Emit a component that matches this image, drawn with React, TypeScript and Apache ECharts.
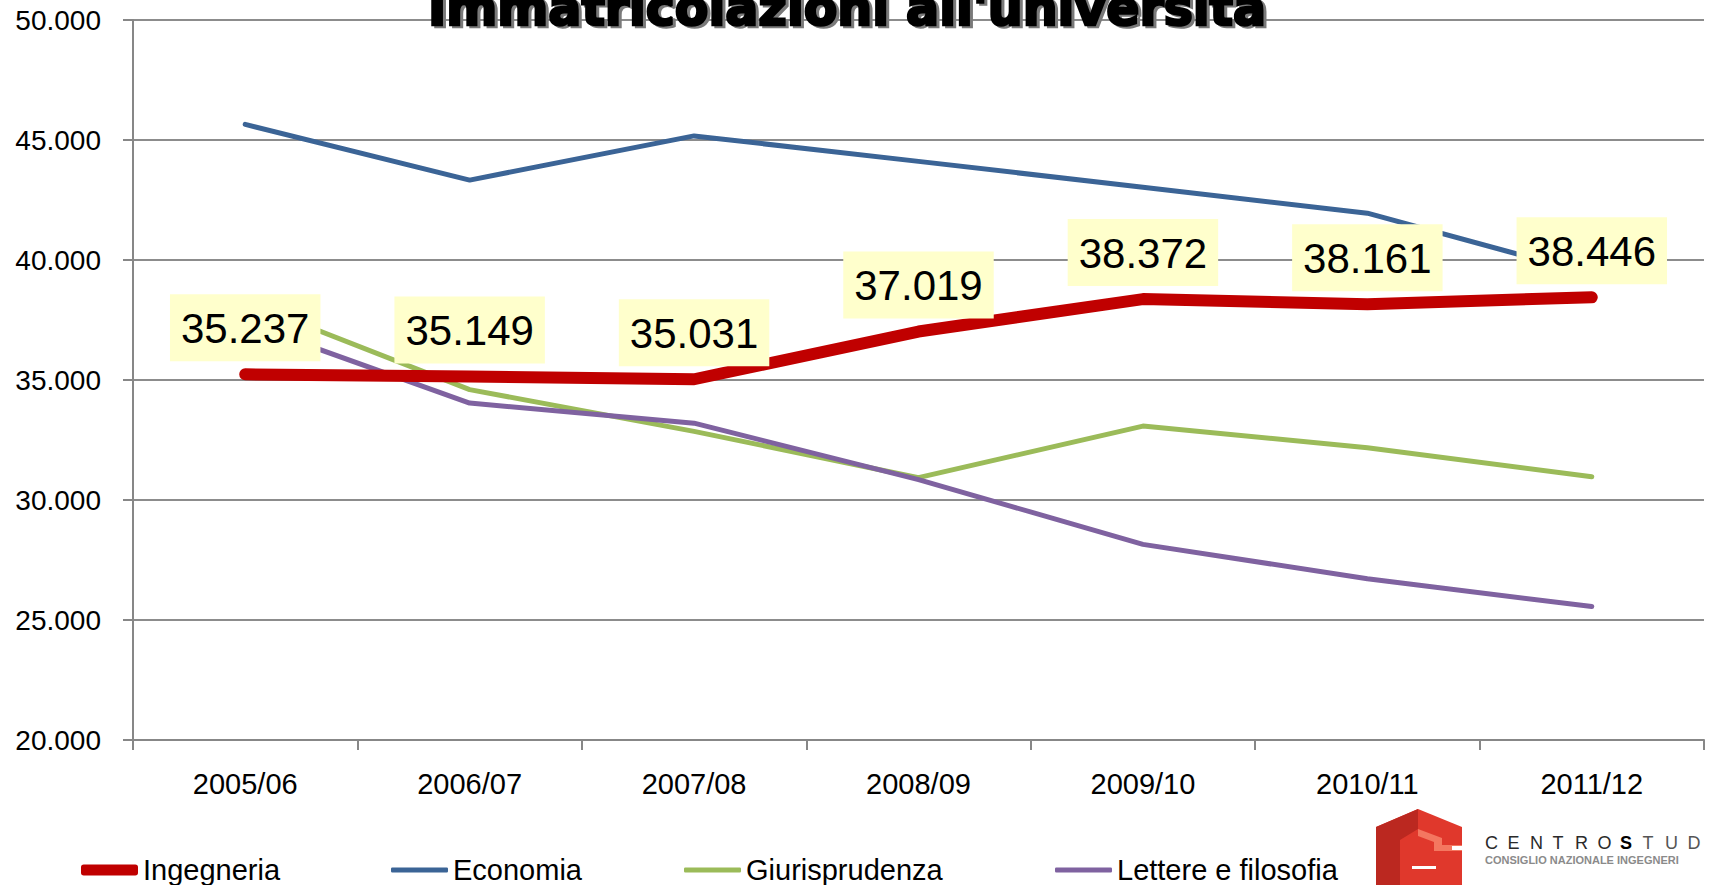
import React, { useEffect, useRef } from "react";
import * as echarts from "echarts";

const categories = ["2005/06", "2006/07", "2007/08", "2008/09", "2009/10", "2010/11", "2011/12"];
const ingegneria = [35237, 35149, 35031, 37019, 38372, 38161, 38446];
const economia = [45650, 43330, 45170, 44110, 43030, 41950, 39400];
const giurisprudenza = [38250, 34600, 32860, 30930, 33080, 32180, 30970];
const lettere = [37380, 34040, 33200, 30850, 28150, 26720, 25560];
const seriesNames = ["Ingegneria", "Economia", "Giurisprudenza", "Lettere e filosofia"];
const titleText = "Immatricolazioni all'università";
const logoLetters = ["C", "E", "N", "T", "R", "O", "S", "T", "U", "D", "I"];

const fmt = (v: number) => {
  const k = Math.floor(v / 1000);
  const r = String(Math.round(v % 1000)).padStart(3, "0");
  return `${k}.${r}`;
};

const FONT = "'Liberation Sans', Arial, sans-serif";

export default function App() {
  const ref = useRef<HTMLDivElement>(null);
  useEffect(() => {
    if (!ref.current) return;
    const chart = echarts.init(ref.current, undefined, { renderer: "svg" });
    const legendLefts = [81, 391, 684, 1055];
    const legendHeights = [11, 5, 5, 5];
    const colors = ["#C00000", "#3B6496", "#9BBB59", "#7F62A0"];
    const seriesData = [ingegneria, economia, giurisprudenza, lettere];
    const series: any[] = seriesNames.map((name, i) => {
      const s: any = {
        name,
        type: "line",
        data: seriesData[i],
        symbol: "none",
        z: 2 + i * 0.1,
        itemStyle: { color: colors[i] },
        lineStyle: { width: 5, color: colors[i], cap: "round", join: "round" },
      };
      if (i === 0) {
        s.symbol = "circle";
        s.symbolSize = 2;
        s.showSymbol = true;
        s.z = 5;
        s.lineStyle = { width: 12, color: colors[0], cap: "round", join: "round" };
        s.label = {
          show: true,
          position: "top",
          distance: 12,
          formatter: (p: any) => fmt(p.value),
          color: "#000",
          fontSize: 42,
          fontFamily: FONT,
          lineHeight: 50,
          backgroundColor: "#FFFFCC",
          padding: [9, 11, 8, 11],
        };
      }
      return s;
    });
    const letterEls = logoLetters.map((ch, i) => ({
      type: "text",
      x: 1485 + i * 22.5,
      y: 843,
      style: {
        text: ch,
        fontSize: 18,
        fontWeight: ch === "S" && i === 6 ? "bold" : "normal",
        fontFamily: FONT,
        fill: i < 6 ? "#2a2a2a" : i === 6 ? "#000" : "#555555",
        verticalAlign: "middle",
        align: "left",
      },
    }));
    const option: any = {
      animation: false,
      backgroundColor: "#ffffff",
      color: colors,
      grid: { left: 133, top: 20, right: 7, bottom: 145, containLabel: false },
      xAxis: {
        type: "category",
        data: categories,
        boundaryGap: true,
        axisLine: { lineStyle: { color: "#878787", width: 2 } },
        axisTick: { show: true, length: 10, lineStyle: { color: "#878787", width: 2 } },
        axisLabel: { color: "#000", fontSize: 29, fontFamily: FONT, margin: 29 },
      },
      yAxis: {
        type: "value",
        min: 20000,
        max: 50000,
        interval: 5000,
        axisLine: { show: true, lineStyle: { color: "#878787", width: 2 } },
        axisTick: { show: true, length: 10, lineStyle: { color: "#878787", width: 2 } },
        splitLine: { show: true, lineStyle: { color: "#8C8C8C", width: 2 } },
        axisLabel: { color: "#000", fontSize: 28, fontFamily: FONT, margin: 32, formatter: (v: number) => fmt(v) },
      },
      legend: seriesNames.map((n, i) => ({
        data: [n],
        left: legendLefts[i],
        top: 855,
        padding: 0,
        icon: "roundRect",
        itemWidth: 57,
        itemHeight: legendHeights[i],
        textStyle: { color: "#000", fontSize: 29, fontFamily: FONT, lineHeight: 30 },
      })),
      series,
      graphic: [
        {
          type: "text",
          x: 431,
          y: 10,
          z: 10,
          style: {
            text: titleText,
            fontSize: 49,
            fontWeight: "bold",
            fontFamily: "'DejaVu Sans', sans-serif",
            fill: "#7a7a7a",
            stroke: "#7a7a7a",
            lineWidth: 2.5,
            verticalAlign: "middle",
            align: "left",
          },
        },
        {
          type: "text",
          x: 428,
          y: 8,
          z: 11,
          style: {
            text: titleText,
            fontSize: 49,
            fontWeight: "bold",
            fontFamily: "'DejaVu Sans', sans-serif",
            fill: "#000",
            stroke: "#000",
            lineWidth: 2.5,
            verticalAlign: "middle",
            align: "left",
          },
        },
        {
          type: "group",
          z: 10,
          children: [
            {
              type: "polygon",
              shape: { points: [[1418, 809], [1462, 827], [1462, 890], [1376, 890], [1376, 827]] },
              style: { fill: "#E0382C" },
            },
            {
              type: "polygon",
              shape: { points: [[1418, 809], [1376, 827], [1376, 890], [1400, 890], [1400, 840], [1418, 829]] },
              style: { fill: "#BB2820" },
            },
            {
              type: "polygon",
              shape: { points: [[1418, 829], [1442, 838], [1442, 845], [1462, 845], [1462, 851], [1434, 851], [1434, 842], [1418, 836]] },
              style: { fill: "#F47760" },
            },
            {
              type: "rect",
              shape: { x: 1412, y: 866, width: 24, height: 3 },
              style: { fill: "#ffffff" },
            },
            {
              type: "rect",
              shape: { x: 1452, y: 846, width: 28, height: 4 },
              style: { fill: "#ffffff" },
            },
            ...letterEls,
            {
              type: "text",
              x: 1485,
              y: 860,
              style: {
                text: "CONSIGLIO NAZIONALE INGEGNERI",
                fontSize: 11,
                fontWeight: "bold",
                fontFamily: FONT,
                fill: "#8A8A8A",
                verticalAlign: "middle",
                align: "left",
              },
            },
          ],
        },
      ],
    };
    chart.setOption(option);
    return () => chart.dispose();
  }, []);
  return (
    <div
      ref={ref}
      style={{ position: "fixed", left: 0, top: 0, width: "1711px", height: "885px" }}
    />
  );
}
